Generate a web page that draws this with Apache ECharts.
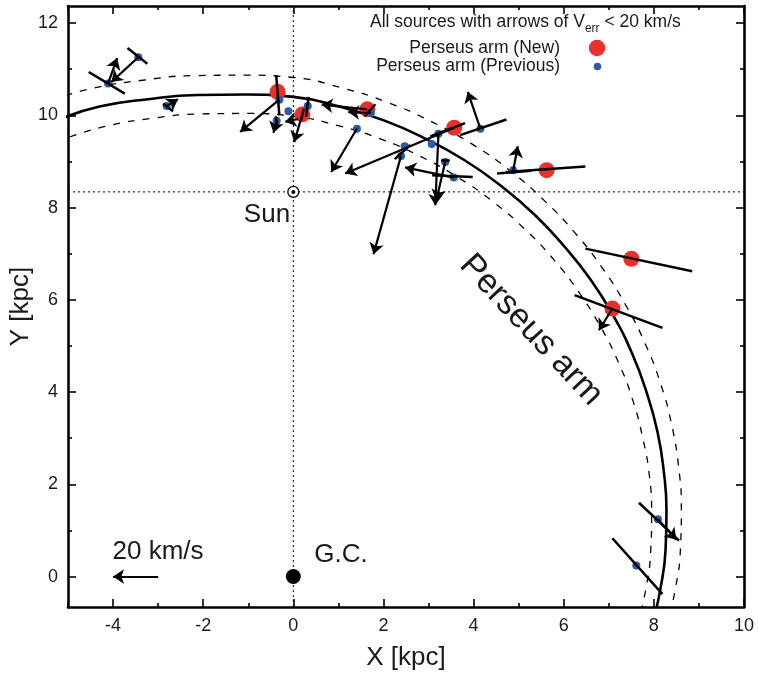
<!DOCTYPE html>
<html>
<head>
<meta charset="utf-8">
<script src="https://cdn.jsdelivr.net/npm/echarts@6/dist/echarts.min.js"></script>
<style>
  html, body { margin: 0; padding: 0; background: #fff; }
  #chart { width: 758px; height: 686px; }
</style>
</head>
<body>
<div id="chart"></div>
<script>
// axis ranges and ticks
var xMin = -5, xMax = 10;
var yMin = -0.66, yMax = 12.37;
var xMajor = [-4, -2, 0, 2, 4, 6, 8, 10];
var xMinor = [-5, -3, -1, 1, 3, 5, 7, 9];
var yMajor = [0, 2, 4, 6, 8, 10, 12];
var yMinor = [1, 3, 5, 7, 9, 11];

// Perseus arm centre line and its width
var armMid = [[-5.17,9.92],[-4.30,10.19],[-3.22,10.35],[-2.13,10.44],[-1.05,10.45],[0,10.40],[1.02,10.19],[2.01,9.89],[2.94,9.49],[3.81,9.02],[4.62,8.46],[5.36,7.84],[6.02,7.15],[6.61,6.42],[7.11,5.64],[7.52,4.83],[7.84,3.99],[8.08,3.14],[8.22,2.28],[8.28,1.43],[8.26,0.59],[8.15,-0.24],[7.97,-1.04]];
var armOuter = [[-5.37,10.32],[-4.48,10.58],[-3.35,10.76],[-2.22,10.86],[-1.10,10.87],[0,10.82],[1.06,10.60],[2.09,10.28],[3.05,9.87],[3.96,9.38],[4.81,8.80],[5.57,8.15],[6.26,7.44],[6.87,6.67],[7.39,5.86],[7.82,5.02],[8.16,4.15],[8.40,3.27],[8.55,2.37],[8.61,1.49],[8.59,0.61],[8.48,-0.25],[8.28,-1.08]];
var armInner = [[-4.96,9.53],[-4.13,9.77],[-3.09,9.94],[-2.05,10.03],[-1.01,10.04],[0,9.98],[0.98,9.78],[1.93,9.49],[2.82,9.11],[3.66,8.65],[4.44,8.12],[5.15,7.52],[5.78,6.87],[6.34,6.16],[6.82,5.41],[7.22,4.63],[7.53,3.83],[7.75,3.02],[7.90,2.19],[7.95,1.37],[7.93,0.56],[7.83,-0.23],[7.65,-0.99]];

var sunPos = [0, 8.34];
var gcPos = [0, 0];

// sources
var newSrc = [[-0.35,10.51],[0.20,10.02],[1.64,10.13],[3.57,9.73],[5.62,8.81],[7.50,6.89],[7.08,5.81]];
var prevSrc = [[-4.11,10.69],[-3.44,11.26],[-2.81,10.20],[-0.31,10.34],[-0.37,9.88],[-0.11,10.09],[0.32,10.20],[1.72,10.05],[1.41,9.71],[2.47,9.33],[2.39,9.12],[3.22,9.60],[3.07,9.38],[3.37,8.99],[3.56,8.65],[4.15,9.71],[4.88,8.81],[8.09,1.24],[7.61,0.24]];

// distance error bars: x1, y1, x2, y2
var errBars = [
  [-4.54,10.94,-3.74,10.47], [-3.68,11.46,-3.24,11.12], [-2.89,10.25,-2.67,10.09],
  [-0.38,10.87,-0.31,10.00], [-0.39,9.98,-0.35,9.76], [0.34,10.40,0.28,9.97],
  [0.23,10.15,0.17,9.88], [1.58,9.98,1.82,10.24], [2.25,9.05,2.60,9.36],
  [3.04,9.54,3.81,9.83], [3.08,8.70,3.98,8.66], [3.28,9.02,3.47,9.02],
  [3.70,9.57,4.73,9.91], [4.52,8.74,5.28,8.80], [4.72,8.77,6.48,8.89],
  [6.48,7.11,8.85,6.62], [6.24,6.10,8.19,5.39], [7.67,1.60,8.56,0.78],
  [7.08,0.83,8.19,-0.38]
];

// velocity arrows: tail x, tail y, head x, head y (1 kpc = 20 km/s)
var arrows = [
  [-4.11,10.69,-3.91,11.24], [-3.44,11.26,-4.04,10.72], [-2.81,10.20,-2.56,10.35],
  [-0.31,10.34,-1.18,9.64], [-0.37,9.88,-0.44,9.62], [0.20,10.02,0.02,9.42],
  [0.11,9.92,-0.18,9.86], [1.64,10.13,0.63,10.23], [1.72,10.05,1.22,10.07],
  [1.41,9.71,0.84,8.77], [3.57,9.73,1.15,8.74], [2.39,9.12,1.78,6.99],
  [3.22,9.60,3.15,8.05], [3.37,8.99,3.17,8.15], [3.56,8.65,2.48,8.87],
  [4.15,9.71,3.87,10.51], [4.88,8.81,4.98,9.33], [7.08,5.81,6.78,5.34],
  [8.09,1.24,8.50,0.80]
];
var scaleArrow = [-3, 0, -4, 0];

var font = 'Liberation Sans, Arial, Helvetica, sans-serif';
var ink = '#1a1a1a';

function xAxisOf(pos, ticks, len, withLabels) {
  return {
    type: 'value', min: xMin, max: xMax, position: pos,
    axisLine: { show: len > 5, onZero: false, lineStyle: { color: '#000', width: 2.6 } },
    axisTick: { inside: true, length: len, customValues: ticks, lineStyle: { color: '#000', width: 1.6 } },
    axisLabel: withLabels ? { customValues: ticks, fontSize: 18, color: ink, fontFamily: font, margin: 10 } : { show: false },
    splitLine: { show: false },
    name: withLabels ? 'X [kpc]' : '',
    nameLocation: 'middle', nameGap: 38,
    nameTextStyle: { fontSize: 26, color: ink, fontFamily: font }
  };
}
function yAxisOf(pos, ticks, len, withLabels) {
  return {
    type: 'value', min: yMin, max: yMax, position: pos,
    axisLine: { show: len > 5, onZero: false, lineStyle: { color: '#000', width: 2.6 } },
    axisTick: { inside: true, length: len, customValues: ticks, lineStyle: { color: '#000', width: 1.6 } },
    axisLabel: withLabels ? { customValues: ticks, fontSize: 18, color: ink, fontFamily: font, margin: 10 } : { show: false },
    splitLine: { show: false },
    name: withLabels ? 'Y [kpc]' : '',
    nameLocation: 'middle', nameGap: 34, nameMoveOverlap: false,
    nameTextStyle: { fontSize: 26, color: ink, fontFamily: font }
  };
}

function toLines(list) {
  return list.map(function (a) { return { coords: [[a[0], a[1]], [a[2], a[3]]] }; });
}

var chart = echarts.init(document.getElementById('chart'), null, { renderer: 'canvas' });

var option = {
  animation: false,
  backgroundColor: '#fff',
  grid: { left: 68, right: 14, top: 6, bottom: 79, containLabel: false, outerBoundsMode: 'none' },
  xAxis: [
    xAxisOf('bottom', xMajor, 8, true),
    xAxisOf('bottom', xMinor, 4, false),
    xAxisOf('top', xMajor, 8, false),
    xAxisOf('top', xMinor, 4, false)
  ],
  yAxis: [
    yAxisOf('left', yMajor, 8, true),
    yAxisOf('left', yMinor, 4, false),
    yAxisOf('right', yMajor, 8, false),
    yAxisOf('right', yMinor, 4, false)
  ],
  series: [
    {
      type: 'line', data: [[sunPos[0], yMin], [sunPos[0], yMax]], showSymbol: false, z: 1,
      lineStyle: { color: '#000', width: 1, type: [2, 3] }
    },
    {
      type: 'line', data: [[xMin, sunPos[1]], [xMax, sunPos[1]]], showSymbol: false, z: 1,
      lineStyle: { color: '#000', width: 1, type: [2, 3] }
    },
    {
      type: 'line', data: armMid, showSymbol: false, smooth: true, z: 2,
      lineStyle: { color: '#000', width: 2.6 }
    },
    {
      type: 'line', data: armOuter, showSymbol: false, smooth: true, z: 2,
      lineStyle: { color: '#000', width: 1.3, type: [7, 8] }
    },
    {
      type: 'line', data: armInner, showSymbol: false, smooth: true, z: 2,
      lineStyle: { color: '#000', width: 1.3, type: [7, 8] }
    },
    {
      type: 'scatter', data: newSrc, symbolSize: 16, z: 3,
      itemStyle: { color: '#ec2f2b', opacity: 1 }
    },
    {
      type: 'scatter', data: prevSrc, symbolSize: 8, z: 3,
      itemStyle: { color: '#2a5aa8', opacity: 1 }
    },
    {
      type: 'lines', coordinateSystem: 'cartesian2d', data: toLines(errBars), z: 4,
      lineStyle: { color: '#000', width: 2.5, opacity: 1 }
    },
    {
      type: 'lines', coordinateSystem: 'cartesian2d', data: toLines(arrows.concat([scaleArrow])), z: 4,
      symbol: ['none', 'arrow'], symbolSize: 11,
      lineStyle: { color: '#000', width: 2.2, opacity: 1 }
    },
    {
      type: 'scatter', data: [sunPos], symbolSize: 11, z: 5,
      itemStyle: { color: '#fff', borderColor: '#000', borderWidth: 1.3, opacity: 1 }
    },
    {
      type: 'scatter', data: [sunPos], symbolSize: 4, z: 6,
      itemStyle: { color: '#000', opacity: 1 }
    },
    {
      type: 'scatter', data: [gcPos], symbolSize: 15, z: 5,
      itemStyle: { color: '#000', opacity: 1 }
    }
  ],
  graphic: [
    {
      type: 'text', x: 370, y: 22, z: 10,
      style: {
        text: '{a|All sources with arrows of V}{s|err}{a| < 20 km/s}',
        textAlign: 'left', textVerticalAlign: 'middle',
        rich: {
          a: { fontSize: 17.5, fontFamily: font, fill: ink, lineHeight: 26, verticalAlign: 'middle' },
          s: { fontSize: 12, fontFamily: font, fill: ink, lineHeight: 12, verticalAlign: 'bottom' }
        }
      }
    },
    {
      type: 'text', x: 560, y: 48, z: 10,
      style: { text: 'Perseus arm (New)', font: '17.5px ' + font, fill: ink, textAlign: 'right', textVerticalAlign: 'middle' }
    },
    {
      type: 'text', x: 560, y: 66, z: 10,
      style: { text: 'Perseus arm (Previous)', font: '17.5px ' + font, fill: ink, textAlign: 'right', textVerticalAlign: 'middle' }
    },
    { type: 'circle', shape: { cx: 597, cy: 48, r: 8.2 }, style: { fill: '#ec2f2b' }, z: 10 },
    { type: 'circle', shape: { cx: 597.5, cy: 66.5, r: 3.8 }, style: { fill: '#2a5aa8' }, z: 10 },
    {
      type: 'text', x: 267, y: 215, z: 10,
      style: { text: 'Sun', font: '26px ' + font, fill: ink, textAlign: 'center', textVerticalAlign: 'middle' }
    },
    {
      type: 'text', x: 341, y: 555, z: 10,
      style: { text: 'G.C.', font: '26px ' + font, fill: ink, textAlign: 'center', textVerticalAlign: 'middle' }
    },
    {
      type: 'text', x: 158, y: 552, z: 10,
      style: { text: '20 km/s', font: '26px ' + font, fill: ink, textAlign: 'center', textVerticalAlign: 'middle' }
    },
    {
      type: 'text', x: 531, y: 330, z: 10, rotation: -47 * Math.PI / 180,
      style: { text: 'Perseus arm', font: '34px ' + font, fill: ink, textAlign: 'center', textVerticalAlign: 'middle' }
    }
  ]
};

chart.setOption(option);
</script>
</body>
</html>
